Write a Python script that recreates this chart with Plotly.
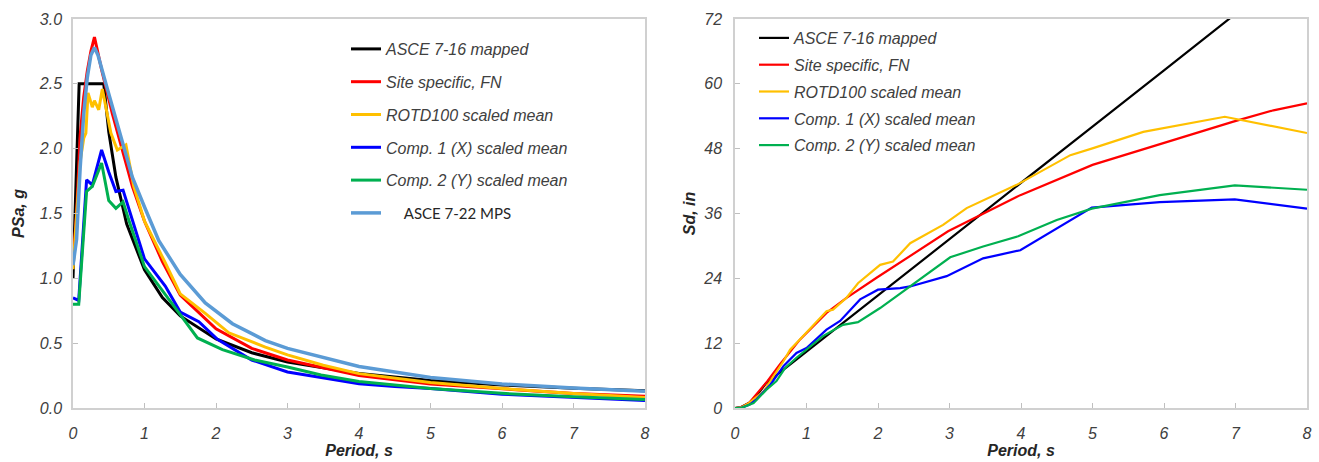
import plotly.graph_objects as go

# ---------------- Spectral acceleration (left panel) ----------------
t_asce716 = [0, 0.086, 0.43, 0.5, 0.6, 0.75, 1.0, 1.25, 1.5, 2.0, 2.5, 3.0, 4.0, 5.0, 6.0, 7.0, 8.0]
sa_asce716 = [1.0, 2.5, 2.5, 2.13, 1.78, 1.42, 1.065, 0.852, 0.71, 0.533, 0.426, 0.355, 0.266, 0.213, 0.178, 0.152, 0.133]

t_site = [0, 0.05, 0.1, 0.15, 0.2, 0.25, 0.3, 0.4, 0.55, 0.68, 0.83, 1.0, 1.25, 1.5, 2.0, 2.5, 3.0, 4.0, 5.0, 7.0, 7.5, 8.0]
sa_site = [1.12, 1.5, 2.1, 2.4, 2.6, 2.75, 2.86, 2.61, 2.27, 2.0, 1.71, 1.44, 1.13, 0.87, 0.61, 0.46, 0.37, 0.25, 0.185, 0.111, 0.1, 0.09]

t_rotd = [0, 0.05, 0.1, 0.15, 0.18, 0.21, 0.27, 0.3, 0.36, 0.41, 0.53, 0.62, 0.74, 0.85, 1.0, 1.29, 1.5,
          1.85, 2.18, 2.69, 3.0, 3.5, 4.0, 5.0, 6.0, 7.0, 8.0]
sa_rotd = [1.07, 1.45, 1.9, 2.08, 2.12, 2.43, 2.32, 2.37, 2.3, 2.46, 2.12, 1.99, 2.03, 1.71, 1.44, 1.12, 0.88,
           0.73, 0.58, 0.47, 0.41, 0.33, 0.265, 0.197, 0.15, 0.112, 0.081]

t_comp1 = [0, 0.08, 0.19, 0.27, 0.4, 0.5, 0.6, 0.7, 0.83, 1.0, 1.29, 1.5, 1.76, 2.02, 2.5, 3.0, 3.47,
           4.0, 4.5, 5.0, 6.0, 7.0, 8.0]
sa_comp1 = [0.85, 0.83, 1.76, 1.72, 1.99, 1.82, 1.67, 1.68, 1.45, 1.15, 0.94, 0.74, 0.665, 0.53, 0.37, 0.278, 0.235,
            0.187, 0.165, 0.15, 0.107, 0.08, 0.058]

t_comp2 = [0, 0.08, 0.19, 0.27, 0.4, 0.5, 0.6, 0.7, 0.78, 1.0, 1.5, 1.74, 2.09, 2.54, 3.0, 3.47, 4.0,
           4.5, 5.0, 6.0, 7.0, 8.0]
sa_comp2 = [0.8, 0.8, 1.67, 1.71, 1.89, 1.6, 1.54, 1.59, 1.45, 1.09, 0.72, 0.54, 0.45, 0.37, 0.316, 0.254, 0.205,
            0.176, 0.151, 0.113, 0.086, 0.065]

t_mps = [0, 0.05, 0.1, 0.15, 0.2, 0.25, 0.3, 0.35, 0.46, 0.64, 0.83, 1.0, 1.2, 1.5, 1.85, 2.23, 2.69,
         3.0, 4.0, 5.0, 6.0, 7.0, 8.0]
sa_mps = [1.1, 1.3, 1.85, 2.27, 2.55, 2.72, 2.78, 2.72, 2.5, 2.14, 1.78, 1.55, 1.29, 1.03, 0.81, 0.65, 0.52,
          0.46, 0.32, 0.235, 0.185, 0.155, 0.13]

# ---------------- Spectral displacement (right panel) ----------------
t_sd_asce716 = [0, 0.086, 0.2, 0.3, 0.43, 0.6, 0.8, 1, 2, 3, 4, 5, 6, 7, 8]
sd_asce716 = [0, 0.18, 0.98, 2.2, 4.52, 6.25, 8.34, 10.42, 20.84, 31.3, 41.7, 52.1, 62.5, 72.9, 83.4]

t_sd_site = [0, 0.1, 0.2, 0.3, 0.45, 0.63, 0.91, 1.28, 1.56, 1.98, 2.56, 2.98, 3.99, 5.0, 6.97, 7.53, 8.0]
sd_site = [0, 0.2, 1.0, 2.5, 4.9, 8.1, 12.7, 17.6, 20.4, 24.1, 29.0, 32.7, 39.4, 45.0, 53.0, 55.1, 56.4]

t_sd_rotd = [0, 0.1, 0.2, 0.4, 0.68, 0.77, 0.93, 1.28, 1.37, 1.56, 1.72, 2.03, 2.21, 2.45, 2.91, 3.24,
             3.94, 4.69, 5.01, 5.71, 6.85, 7.53, 8.0]
sd_rotd = [0, 0.19, 0.94, 3.1, 8.7, 10.8, 13.0, 17.9, 18.2, 20.4, 23.1, 26.5, 27.1, 30.5, 33.9, 37.0,
           41.3, 46.8, 48.1, 51.1, 53.9, 52.1, 50.9]

t_sd_comp1 = [0, 0.1, 0.2, 0.3, 0.5, 0.68, 0.86, 1.0, 1.28, 1.47, 1.75, 2.0, 2.31, 2.45, 2.96, 3.47,
              3.99, 4.5, 4.99, 5.94, 6.99, 8.0]
sd_comp1 = [0, 0.08, 0.6, 1.6, 4.4, 7.8, 10.2, 11.1, 14.5, 16.1, 20.1, 21.9, 22.2, 22.5, 24.4, 27.7,
            29.2, 33.3, 37.1, 38.1, 38.6, 36.9]

t_sd_comp2 = [0, 0.1, 0.26, 0.44, 0.58, 0.7, 0.86, 1.23, 1.51, 1.72, 2.03, 2.54, 3.01, 3.47, 3.96,
              4.5, 4.99, 5.94, 6.99, 8.0]
sd_comp2 = [0, 0.08, 0.9, 3.4, 5.0, 7.4, 9.3, 13.3, 15.4, 15.9, 18.5, 23.4, 27.9, 29.9, 31.8,
            34.8, 36.9, 39.4, 41.2, 40.4]

names = ["ASCE 7-16 mapped", "Site specific, FN", "ROTD100 scaled mean",
         "Comp. 1 (X) scaled mean", "Comp. 2 (Y) scaled mean"]
mps_name = "ASCE 7-22 MPS"
colors = ["#000000", "#ff0000", "#ffc000", "#0000ff", "#00b050"]
mps_color = "#5b9bd5"

W, H = 1319, 462
TXT = "#404040"
FONT = "Liberation Sans, Arial, sans-serif"

fig = go.Figure()

sa_sets = [(t_asce716, sa_asce716), (t_site, sa_site), (t_rotd, sa_rotd),
           (t_comp1, sa_comp1), (t_comp2, sa_comp2)]
for i, ((t, v), n, c) in enumerate(zip(sa_sets, names, colors)):
    fig.add_trace(go.Scatter(x=t, y=v, mode="lines", name="<i>" + n + "</i>",
                             line=dict(color=c, width=3), legend="legend",
                             legendgroup="a%d" % i, xaxis="x", yaxis="y"))
fig.add_trace(go.Scatter(x=t_mps, y=sa_mps, mode="lines",
                         name="\u00a0\u00a0\u00a0\u00a0<span style='font-family:Lato;font-size:15px;color:#262626'>"
                              + mps_name + "</span>",
                         line=dict(color=mps_color, width=3.5), legend="legend",
                         legendgroup="a5", xaxis="x", yaxis="y"))

sd_sets = [(t_sd_asce716, sd_asce716), (t_sd_site, sd_site), (t_sd_rotd, sd_rotd),
           (t_sd_comp1, sd_comp1), (t_sd_comp2, sd_comp2)]
for i, ((t, v), n, c) in enumerate(zip(sd_sets, names, colors)):
    fig.add_trace(go.Scatter(x=t, y=v, mode="lines", name="<i>" + n + "</i>",
                             line=dict(color=c, width=2.2), legend="legend2",
                             legendgroup="b%d" % i, xaxis="x2", yaxis="y2"))


def px_x(p):
    return p / W


def px_y(p):
    return 1 - p / H


frame = dict(showline=True, linecolor="#d0d0d0", linewidth=1.5, mirror=True,
             showgrid=False, zeroline=False, ticks="inside", ticklen=5, automargin=False,
             tickcolor="#bfbfbf", tickfont=dict(family=FONT, size=16, color=TXT, style="italic"))

title_font = dict(family=FONT, size=16, color="#262626", weight="bold", style="italic")

fig.update_layout(
    width=W, height=H, margin=dict(l=0, r=0, t=0, b=0, autoexpand=False),
    paper_bgcolor="white", plot_bgcolor="white",
    xaxis=dict(domain=[px_x(73), px_x(645)], range=[0, 8], dtick=1, anchor="y",
               title=dict(text="Period, s", font=title_font, standoff=4),
               ticklabelstandoff=10, **frame),
    yaxis=dict(domain=[px_y(408), px_y(19)], range=[0, 3], dtick=0.5, tickformat=".1f",
               anchor="x", title=dict(text="PSa, g", font=title_font, standoff=10),
               ticklabelstandoff=6, **frame),
    xaxis2=dict(domain=[px_x(735), px_x(1307)], range=[0, 8], dtick=1, anchor="y2",
                title=dict(text="Period, s", font=title_font, standoff=4),
                ticklabelstandoff=10, **frame),
    yaxis2=dict(domain=[px_y(408), px_y(19)], range=[0, 72], dtick=12, anchor="x2",
                title=dict(text="Sd, in", font=title_font, standoff=4),
                ticklabelstandoff=8, **frame),
    legend=dict(x=px_x(346), y=px_y(32), xanchor="left", yanchor="top",
                bgcolor="rgba(0,0,0,0)", font=dict(family=FONT, size=16, color=TXT),
                traceorder="grouped", tracegroupgap=9, itemwidth=30),
    legend2=dict(x=px_x(754), y=px_y(21), xanchor="left", yanchor="top",
                 bgcolor="rgba(0,0,0,0)", font=dict(family=FONT, size=16, color=TXT),
                 traceorder="grouped", tracegroupgap=3, itemwidth=30),
)

fig.write_html("out.html")
